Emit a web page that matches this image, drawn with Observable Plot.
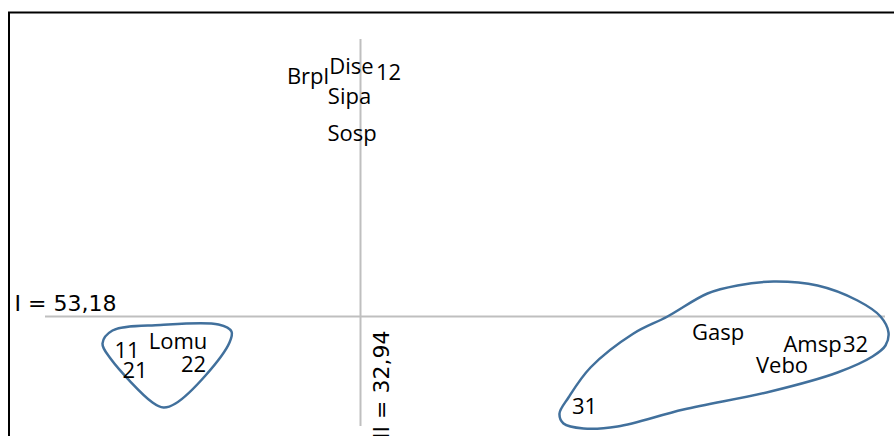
<!DOCTYPE html>
<html>
<head>
<meta charset="utf-8">
<script src="https://cdn.jsdelivr.net/npm/d3@7"></script>
<script src="https://cdn.jsdelivr.net/npm/@observablehq/plot@0.6"></script>
<style>
  html, body { margin: 0; padding: 0; background: #fff; overflow: hidden; }
  #chart { width: 894px; height: 436px; overflow: hidden; }
</style>
</head>
<body>
<div id="chart"></div>
<script>
// Factor scores (axis I horizontal, axis II vertical)
const names  = ["Brpl", "Dise", "12", "Sipa", "Sosp", "Lomu", "11", "21", "22", "Gasp", "Amsp", "32", "Vebo", "31"];
const scoreI  = [-0.2625, -0.045, 0.14, -0.055, -0.0425, -0.9125, -1.1675, -1.1275, -0.835, 1.7875, 2.26, 2.475, 2.1075, 1.12];
const scoreII = [1.20, 1.25, 1.22, 1.10, 0.915, -0.125, -0.17, -0.27, -0.24, -0.08, -0.14, -0.14, -0.245, -0.45];

// Inertia explained by each axis (%)
const axisTitles = ["I = 53,18", "II = 32,94"];

// Extent of the drawn axis lines
const axisIExtent  = [-1.575, 2.625];
const axisIIExtent = [-0.55, 1.385];

// Hand-drawn group outlines
const groupA_x = [-1.29, -1.24, -1.0, -0.71, -0.645, -0.655, -0.775, -0.925, -0.985, -1.04, -1.25];
const groupA_y = [-0.135, -0.07, -0.0425, -0.04, -0.075, -0.13, -0.295, -0.435, -0.455, -0.43, -0.21];
const groupB_x = [2.065, 2.285, 2.485, 2.6, 2.64, 2.625, 2.56, 2.385, 2.05, 1.615, 1.285, 1.115, 1.015, 0.995, 1.04, 1.15, 1.365, 1.535, 1.735, 1.885];
const groupB_y = [0.175, 0.155, 0.08, 0, -0.08, -0.145, -0.2, -0.28, -0.375, -0.465, -0.55, -0.56, -0.535, -0.485, -0.405, -0.255, -0.085, 0, 0.115, 0.155];

const points = names.map((n, i) => ({name: n, x: scoreI[i], y: scoreII[i]}));
const outline = (xs, ys) => xs.map((x, i) => ({x, y: ys[i]}));

const labelFont = "'Open Sans', sans-serif";
const axisFont = "'DejaVu Sans', sans-serif";
const gray = "#bfbfbf";
const blue = "#41709c";

const chart = Plot.plot({
  width: 894,
  height: 436,
  marginTop: 0, marginRight: 0, marginBottom: 0, marginLeft: 0,
  x: {domain: [-1.8, 2.67], axis: null},
  y: {domain: [-0.6, 1.58], axis: null},
  marks: [
    Plot.frame({stroke: "black", strokeWidth: 2, insetLeft: 8.5, insetTop: 12, insetRight: -10, insetBottom: -10}),
    Plot.ruleY([0], {x1: axisIExtent[0], x2: axisIExtent[1], stroke: gray, strokeWidth: 2}),
    Plot.ruleX([0], {y1: axisIIExtent[0], y2: axisIIExtent[1], stroke: gray, strokeWidth: 2}),
    Plot.line(outline(groupA_x, groupA_y), {x: "x", y: "y", curve: "catmull-rom-closed", stroke: blue, strokeWidth: 2.5}),
    Plot.line(outline(groupB_x, groupB_y), {x: "x", y: "y", curve: "catmull-rom-closed", stroke: blue, strokeWidth: 2.5}),
    Plot.text(points, {x: "x", y: "y", text: "name", fontFamily: labelFont, fontSize: 22, fill: "black"}),
    Plot.text([axisTitles[0]], {
      y: 0, frameAnchor: "left", textAnchor: "start", dx: 14, dy: -13,
      fontFamily: axisFont, fontSize: 22, fill: "black"
    }),
    Plot.text([axisTitles[1]], {
      x: 0, y: 0, rotate: -90, textAnchor: "end", dx: 21, dy: 14,
      fontFamily: axisFont, fontSize: 22, fill: "black"
    })
  ]
});
document.getElementById("chart").appendChild(chart);
</script>
</body>
</html>
